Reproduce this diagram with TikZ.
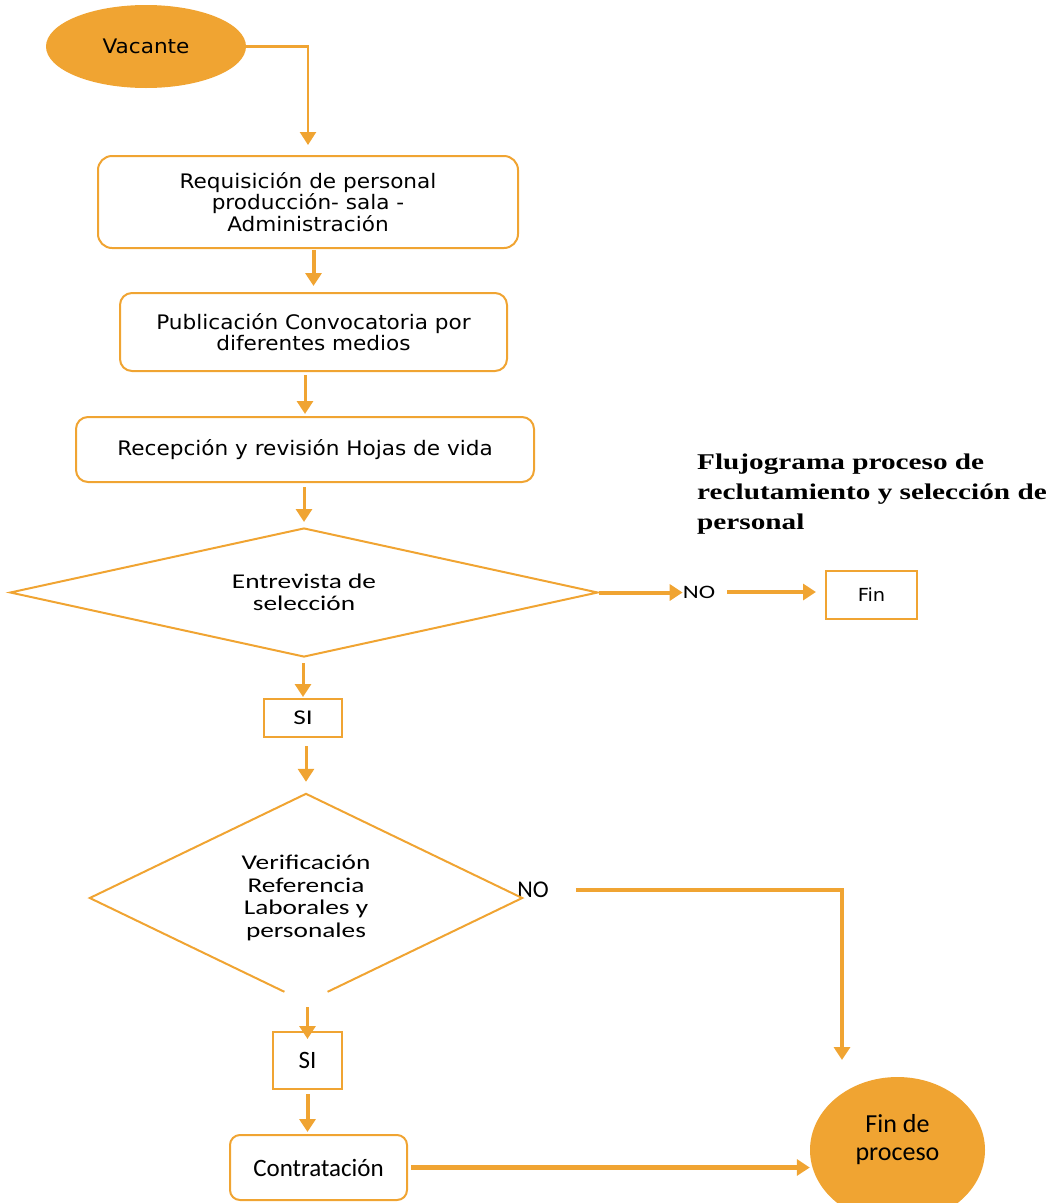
\documentclass[tikz,border=0pt]{standalone}
\usepackage{fontspec}
\usetikzlibrary{shapes.geometric,arrows.meta,calc}
\newfontfamily\vfont[FakeStretch=1.08]{DejaVu Sans}
\newfontfamily\cfont[FakeStretch=1.3]{Carlito}
\newfontfamily\kfont{Carlito}
\newfontfamily\tfont[FakeStretch=1.3]{Liberation Serif}
\definecolor{org}{RGB}{240,164,50}
\begin{document}
\begin{tikzpicture}[x=1pt,y=-1pt,
  proc/.style={draw=org,line width=2pt,rounded corners=14pt,align=center,inner sep=0pt,font=\vfont\fontsize{20}{21.5}\selectfont},
  sqbox/.style={draw=org,line width=2pt,inner sep=0pt,align=center},
  dec/.style={shape=diamond,inner sep=0pt,align=center,font=\cfont\fontsize{21}{22.5}\selectfont},
  term/.style={shape=ellipse,fill=org,inner sep=0pt,align=center},
  arr/.style={draw=org,-{Triangle[width=16pt,length=13pt]}},
  lbl/.style={inner sep=0pt}
]
\useasboundingbox (0,0) rectangle (1061,1203);
\clip (0,0) rectangle (1061,1203);

% nodes
\node[term,minimum width=200pt,minimum height=83pt,font=\vfont\fontsize{20}{22}\selectfont] (vac) at (146,46.5) {Vacante};
\node[proc,minimum width=420pt,minimum height=92pt] (b1) at (308,202) {Requisición de personal\\producción- sala -\\Administración};
\node[proc,rounded corners=12pt,minimum width=387pt,minimum height=78pt] (b2) at (313.5,332) {Publicación Convocatoria por\\diferentes medios};
\node[proc,rounded corners=12pt,minimum width=458pt,minimum height=65pt] (b3) at (305,449.5) {Recepción y revisión Hojas de vida};
\node[dec,aspect=4.5,draw=org,line width=2pt,minimum width=588pt,minimum height=129pt] (d1) at (304,592.5) {Entrevista de\\selección};
\node[sqbox,minimum width=78pt,minimum height=38pt,font=\cfont\fontsize{21}{22}\selectfont] (si1) at (303,718) {SI};
\node[lbl,font=\cfont\fontsize{19}{20}\selectfont] (no1) at (699,592) {NO};
\node[sqbox,minimum width=91pt,minimum height=48pt,font=\vfont\fontsize{18}{20}\selectfont] (finb) at (871.5,595) {Fin};
\node[dec,aspect=2.08,minimum width=432pt,minimum height=208pt] (d2) at (306,898) {Verificación\\Referencia\\Laborales y\\personales};
\node[lbl,font=\kfont\fontsize{24}{26}\selectfont] (no2) at (533,890) {NO};
\node[sqbox,minimum width=69pt,minimum height=57pt,font=\kfont\fontsize{25}{26}\selectfont] (si2) at (307.5,1060.5) {SI};
\node[proc,rounded corners=10pt,minimum width=177pt,minimum height=65pt,font=\kfont\fontsize{25}{27}\selectfont] (con) at (318.5,1167.5) {Contratación};
\node[term,minimum width=175pt,minimum height=146pt,
  label={[lbl,align=center,yshift=10pt,font=\kfont\fontsize{26}{28}\selectfont]center:Fin de\\proceso}] (fin) at (897.5,1150) {};
\node[lbl,anchor=north west,align=left,font=\tfont\bfseries\fontsize{22.5}{30}\selectfont] (title) at (697,454) {Flujograma proceso de\\reclutamiento y selección de\\personal};
\coordinate (n2end) at (842,1060);

% truncated second diamond
\draw[draw=org,line width=2pt] ($(d2.south)!0.1!(d2.west)$) -- (d2.west) -- (d2.north) -- (d2.east) -- ($(d2.south)!0.1!(d2.east)$);

% connectors
\draw[arr,line width=2.5pt,shorten >=10pt] (vac.east) -| (b1.north);
\draw[arr,line width=4pt,shorten <=1pt,shorten >=6pt] (b2.north |- b1.south) -- (b2.north);
\draw[arr,line width=3pt,shorten <=3pt,shorten >=2pt] (b3.north |- b2.south) -- (b3.north);
\draw[arr,line width=3pt,shorten <=4pt,shorten >=5pt] (d1.north |- b3.south) -- (d1.north);
\draw[arr,line width=3pt,shorten <=5pt,shorten >=1pt] (si1.north |- d1.south) -- (si1.north);
\draw[arr,line width=4pt] (d1.east) -- (d1.east -| no1.west);
\draw[arr,line width=4pt,shorten <=12pt,shorten >=9pt] (no1.east) -- (no1.east -| finb.west);
\draw[arr,line width=3pt,shorten <=8pt,shorten >=12pt] (d2.north |- si1.south) -- (d2.north);
\draw[arr,line width=3pt,shorten <=5pt,shorten >=-8pt] (si2.north |- d2.south) -- (si2.north);
\draw[arr,line width=4pt,shorten <=4pt,shorten >=2pt] (si2.south) -- (si2.south |- con.north);
\draw[arr,line width=5pt,shorten <=3pt] (con.east) -- (con.east -| fin.west);
\draw[arr,line width=4pt,shorten <=27pt] (no2.east) -| (n2end);
\end{tikzpicture}
\end{document}
